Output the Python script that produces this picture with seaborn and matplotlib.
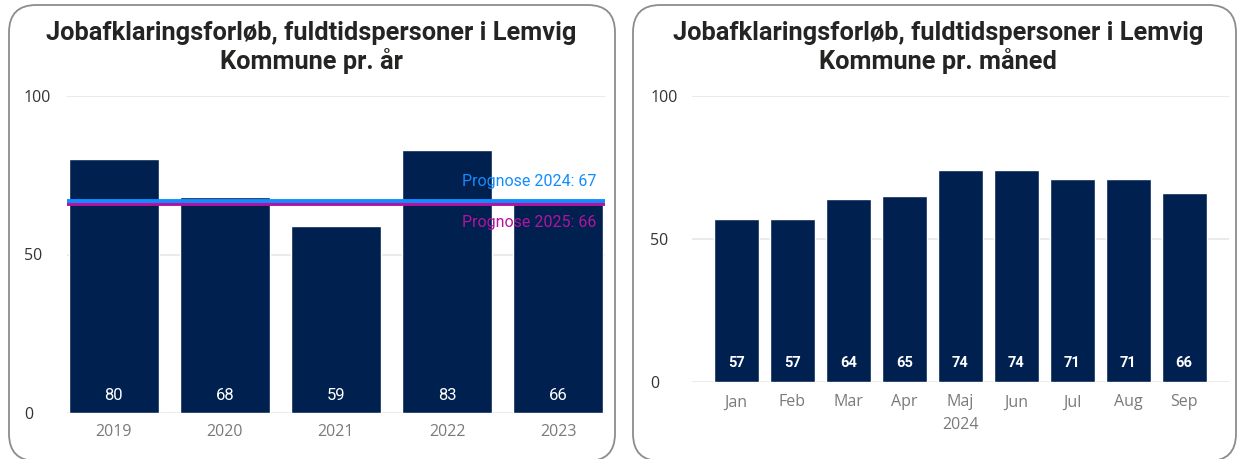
import matplotlib
matplotlib.use("Agg")
import matplotlib.pyplot as plt
import seaborn as sns
import pandas as pd
from matplotlib.patches import FancyBboxPatch

# ---- data ----
years = ["2019", "2020", "2021", "2022", "2023"]
year_values = [80, 68, 59, 83, 66]
months = ["Jan", "Feb", "Mar", "Apr", "Maj", "Jun", "Jul", "Aug", "Sep"]
month_values = [57, 57, 64, 65, 74, 74, 71, 71, 66]
prognose_2024 = 67
prognose_2025 = 66
title_left = "Jobafklaringsforløb, fuldtidspersoner i Lemvig\nKommune pr. år"
title_right = "Jobafklaringsforløb, fuldtidspersoner i Lemvig\nKommune pr. måned"
yticks = [0, 50, 100]

sns.set_theme(style="white")
plt.rcParams['font.family'] = ['Roboto', 'DejaVu Sans']

BAR = "#00204F"
BLUE = "#118DFF"
MAG = "#B3139E"
GRID = "#E6E6E6"
XTICK = "#7A7A7A"
YTICK = "#333333"

W, H = 1240, 459
fig = plt.figure(figsize=(W / 100, H / 100), dpi=100)

# panel frames
for (x0, x1) in [(9, 615), (633, 1236)]:
    p = FancyBboxPatch((x0 / W, -2 / H), (x1 - x0) / W, (H - 5 + 2) / H,
                       boxstyle="round,pad=0,rounding_size=0.022",
                       transform=fig.transFigure, facecolor="none",
                       edgecolor="#8C8C8C", linewidth=1.3,
                       mutation_aspect=W / H, zorder=-10)
    fig.patches.append(p)

# left axes
axL = fig.add_axes([67 / W, (H - 413) / H, (605 - 67) / W, (413 - 96) / H])
dfL = pd.DataFrame({"year": years, "value": year_values})
sns.barplot(data=dfL, x="year", y="value", color=BAR, saturation=1,
            width=0.81, ax=axL, zorder=2)
axL.set_xlim(-0.42, 4.42)

# right axes
axR = fig.add_axes([692 / W, (H - 382) / H, (1229 - 692) / W, (382 - 96) / H])
dfR = pd.DataFrame({"month": months, "value": month_values})
sns.barplot(data=dfR, x="month", y="value", color=BAR, saturation=1,
            width=0.8, ax=axR, zorder=2)
axR.set_xlim(-0.79, 8.8)

for ax in (axL, axR):
    ax.set_facecolor("none")
    ax.set_ylim(0, 100)
    ax.set_yticks(yticks)
    for v in yticks:
        ax.axhline(v, color=GRID, lw=1.2, zorder=1)
    for s in ax.spines.values():
        s.set_visible(False)
    ax.set_ylabel("")
    ax.tick_params(axis="y", length=0, labelsize=11.5, labelcolor=YTICK)
    ax.tick_params(axis="x", length=0, labelsize=11.5, labelcolor=XTICK)
    for lbl in ax.get_yticklabels():
        lbl.set_family(['Open Sans', 'DejaVu Sans'])
        lbl.set_horizontalalignment("left")
    for lbl in ax.get_xticklabels():
        lbl.set_family(['Open Sans', 'DejaVu Sans'])

axL.tick_params(axis="y", pad=31)
axR.tick_params(axis="y", pad=30)
axL.tick_params(axis="x", pad=8)
axR.tick_params(axis="x", pad=9)
axL.set_xlabel("")
axR.set_xlabel("2024", color=XTICK, fontsize=11.5, labelpad=5,
               family=['Open Sans', 'DejaVu Sans'])

# bar value labels (placed near the base of each bar)
for c in axL.containers:
    axL.bar_label(c, labels=[str(v) for v in year_values], label_type="edge",
                  color="white", fontsize=12)
for c in axR.containers:
    axR.bar_label(c, labels=[str(v) for v in month_values], label_type="edge",
                  color="white", fontsize=10.5, fontweight="bold")
for t in axL.texts + axR.texts:
    x, y = t.xy
    t.xy = (x, 0)
    t.set_verticalalignment("center")
for t in axL.texts:
    t.set_position((0, 12.3))
for t in axR.texts:
    t.set_position((0, 13.7))

# prognose lines
axL.axhline(prognose_2025, color=MAG, lw=2.8, zorder=3)
axL.axhline(prognose_2024, color=BLUE, lw=2.8, zorder=4)
axL.text(4.34, prognose_2024 + 6, f"Prognose 2024: {prognose_2024}", color=BLUE,
         ha="right", va="center", fontsize=11.5, zorder=5)
axL.text(4.34, prognose_2025 - 6, f"Prognose 2025: {prognose_2025}", color=MAG,
         ha="right", va="center", fontsize=11.5, zorder=5)

# titles
for cx, txt in [(311, title_left), (938, title_right)]:
    fig.text(cx / W, 1 - 47.5 / H, txt, ha="center", va="center",
             fontsize=18.3, fontweight="bold", color="#252423",
             linespacing=1.15)

fig.savefig("out.png", dpi=100)
